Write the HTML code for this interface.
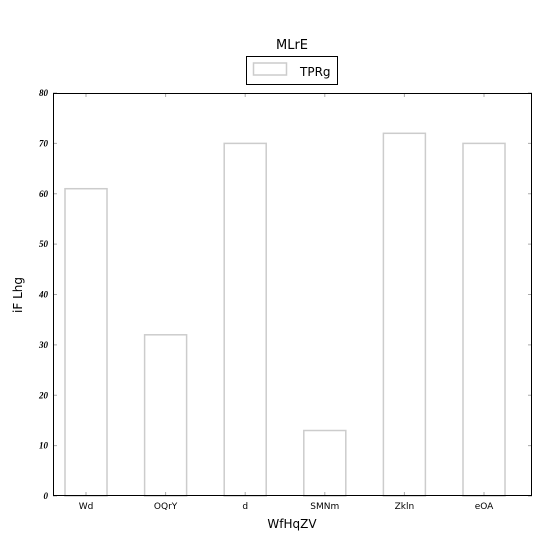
<!DOCTYPE html>
<html><head><meta charset="utf-8"><style>
html,body{margin:0;padding:0;background:#fff;}
svg{display:block;font-family:"DejaVu Sans","Liberation Sans",sans-serif;}
</style></head><body>
<svg id="c" width="544" height="544" viewBox="0 0 544 544"></svg>
<script>
const categories=["Wd","OQrY","d","SMNm","Zkln","eOA"];
const values=[61,32,70,13,72,70];
const yTicks=[0,10,20,30,40,50,60,70,80];
const L=53,R=532,T=93,B=496;
const yS=v=>B-(v/80)*(B-T);
const xS=i=>86+i*79.6;
const bw=42;
const svg=document.getElementById('c');
const NS='http://www.w3.org/2000/svg';
function mk(t,a,p){const e=document.createElementNS(NS,t);for(const k in a)e.setAttribute(k,a[k]);(p||svg).appendChild(e);return e;}
const t=mk('text',{x:292,y:49,'text-anchor':'middle','font-size':13});t.textContent='MLrE';


const lg=mk('g',{});


mk('rect',{x:246.5,y:56.5,width:91,height:28,fill:'#fff',stroke:'#000','stroke-width':1},lg);
mk('rect',{x:253.5,y:63,width:33,height:12,fill:'#fff',stroke:'#ccc','stroke-width':1.5},lg);
const lt=mk('text',{x:300,y:76,'font-size':12},lg);lt.textContent='TPRg';
values.forEach((v,i)=>{
 const r=mk('rect',{x:xS(i)-bw/2,y:yS(v),width:bw,height:B-yS(v),fill:'#fff',stroke:'#ccc','stroke-width':1.5});
 
 
 mk('line',{x1:xS(i),x2:xS(i),y1:B,y2:B-4,stroke:'#aaa'});
 mk('line',{x1:xS(i),x2:xS(i),y1:T,y2:T+4,stroke:'#aaa'});
 const tx=mk('text',{x:xS(i),y:509,'text-anchor':'middle','font-size':9});tx.textContent=categories[i];
 
 
});
yTicks.forEach(v=>{
 mk('line',{x1:L,x2:L+4,y1:yS(v),y2:yS(v),stroke:'#aaa'});
 mk('line',{x1:R,x2:R-4,y1:yS(v),y2:yS(v),stroke:'#aaa'});
 const tx=mk('text',{x:48,y:yS(v)+3,'text-anchor':'end','font-size':9,'font-weight':'bold','font-style':'italic','font-family':'Liberation Serif,serif'});tx.textContent=v;
 
 
});
mk('rect',{x:L+0.5,y:T+0.5,width:R-L-1,height:B-T-1,fill:'none',stroke:'#000','stroke-width':1});
const xl=mk('text',{x:292,y:528,'text-anchor':'middle','font-size':12});xl.textContent='WfHqZV';


const yl=mk('text',{x:0,y:0,'text-anchor':'middle','font-size':12,transform:'translate(22,295) rotate(-90)'});yl.textContent='iF Lhg';


</script>
</body></html>
